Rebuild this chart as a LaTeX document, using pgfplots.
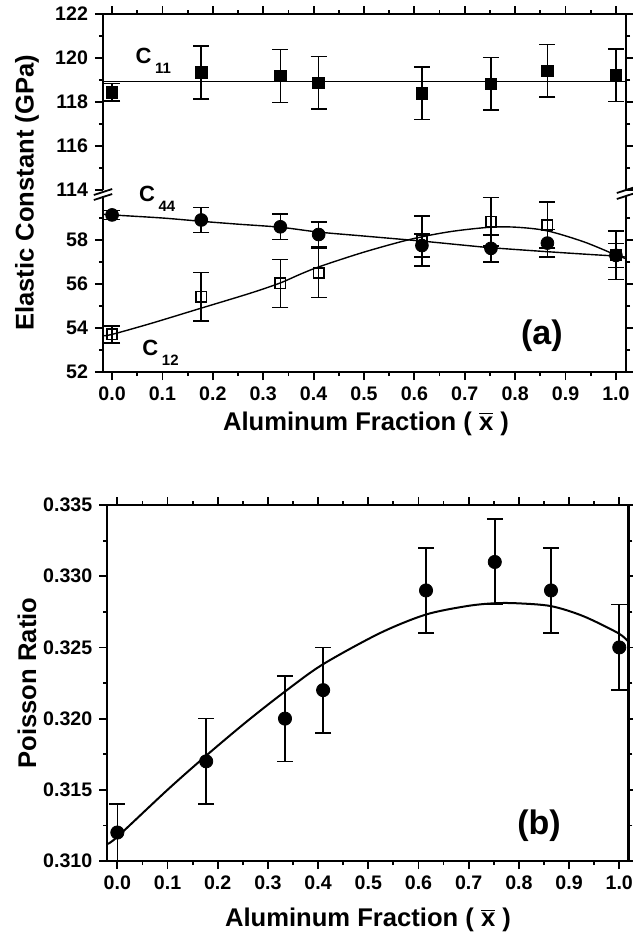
\documentclass[border=0pt]{standalone}
\usepackage{pgfplots}
\pgfplotsset{compat=1.18}
\usepackage{pgfplotstable}
\usepackage{fontspec}
\setmainfont{Liberation Sans}

% elastic constants, x = aluminum fraction, e = error
\pgfplotstableread{
x      y       e
0      118.45  0.40
0.177  119.35  1.20
0.334  119.18  1.20
0.41   118.87  1.20
0.615  118.40  1.20
0.752  118.83  1.20
0.864  119.42  1.20
1.0    119.22  1.20
}\cEleven
\pgfplotstableread{
x      y      e
0      59.14  0.20
0.177  58.91  0.57
0.334  58.60  0.58
0.41   58.25  0.57
0.615  57.75  0.52
0.752  57.62  0.62
0.864  57.86  0.62
1.0    57.30  0.55
}\cFortyFour
\pgfplotstableread{
x      y      e
0      53.71  0.38
0.177  55.43  1.10
0.334  56.03  1.09
0.41   56.50  1.12
0.615  57.96  1.13
0.752  58.83  1.10
0.864  58.68  1.05
1.0    57.30  1.10
}\cTwelve
\pgfplotstableread{
x      y      e
0      0.312  0.002
0.177  0.317  0.003
0.334  0.320  0.003
0.41   0.322  0.003
0.615  0.329  0.003
0.752  0.331  0.003
0.864  0.329  0.003
1.0    0.325  0.003
}\poisson

\newcommand{\Csub}[1]{C\hspace{1.8pt}\raisebox{-5pt}{\fontsize{7.5}{8}\selectfont\bfseries #1}}
\newcommand{\xlab}{Aluminum Fraction ( $\overline{\mbox{x}}$ )}

\pgfplotsset{
  base/.style={
    scale only axis, width=261.5pt, height=88pt,
    xmin=-0.018, xmax=1.02,
    xtick={0,0.1,0.2,0.3,0.4,0.5,0.6,0.7,0.8,0.9,1.0},
    xticklabels={0.0,0.1,0.2,0.3,0.4,0.5,0.6,0.7,0.8,0.9,1.0},
    minor x tick num=1,
    tick align=outside,
    major tick length=4pt, minor tick length=2pt,
    axis line style={line width=1.2pt, -},
    major tick style={line width=0.9pt, black},
    minor tick style={line width=0.9pt, black},
    ticklabel style={font=\fontsize{9.8}{10}\selectfont\bfseries},
    /pgf/number format/assume math mode=true,
    clip=false,
  },
  ebar/.style={error bars/.cd, y dir=both, y explicit,
    error bar style={line width=0.8pt, black},
    error mark options={rotate=90, mark size=4pt, line width=0.8pt, black}},
}

\begin{document}
\begin{tikzpicture}
\useasboundingbox (0,0) rectangle (316.5pt,-469.5pt);

% panel (a), upper part
\begin{axis}[base, at={(51.5pt,-7pt)}, anchor=north west,
  ymin=114, ymax=122, ytick={114,116,118,120,122}, minor y tick num=1,
  axis x line*=top, xticklabels={}]
\addplot[black, line width=0.7pt] coordinates {(-0.018,118.93) (1.02,118.93)};
\addplot[black, only marks, mark=square*, mark size=2.9pt, ebar]
  table[x=x, y=y, y error=e] {\cEleven};
\node[anchor=base west, inner sep=0pt, font=\fontsize{11}{12}\selectfont\bfseries] at (axis cs:0.046,119.76) {\Csub{11}};
\end{axis}

% panel (a), lower part
\begin{axis}[base, at={(51.5pt,-98pt)}, anchor=north west,
  ymin=52, ymax=60, ytick={52,54,56,58}, minor ytick={53,55,57,59},
  axis x line*=bottom]
\addplot[black, line width=0.7pt, smooth] coordinates {
  (-0.018,59.17) (0,59.14) (0.1,59.0) (0.177,58.85) (0.25,58.72) (0.334,58.58)
  (0.41,58.36) (0.5,58.18) (0.615,57.95) (0.7,57.76) (0.752,57.65) (0.863,57.47)
  (0.95,57.34) (1.0,57.27) (1.02,57.22)};
\addplot[black, line width=0.7pt, smooth] coordinates {
  (-0.018,53.65) (0,53.71) (0.076,54.2) (0.175,54.89) (0.274,55.58) (0.334,56.05)
  (0.374,56.45) (0.413,56.8) (0.5,57.45) (0.592,58.03) (0.671,58.38) (0.75,58.58)
  (0.803,58.58) (0.863,58.42) (0.936,57.92) (1.0,57.32) (1.02,57.15)};
\addplot[black, only marks, mark=*, mark size=3.2pt, ebar]
  table[x=x, y=y, y error=e] {\cFortyFour};
\addplot[black, only marks, mark=square, mark size=2.6pt,
  mark options={fill=white, line width=0.8pt}, ebar]
  table[x=x, y=y, y error=e] {\cTwelve};
\node[anchor=base west, inner sep=0pt, font=\fontsize{11}{12}\selectfont\bfseries] at (axis cs:0.053,59.74) {\Csub{44}};
\node[anchor=base west, inner sep=0pt, font=\fontsize{11}{12}\selectfont\bfseries] at (axis cs:0.0595,52.77) {\Csub{12}};
\node[font=\fontsize{17}{18}\selectfont\bfseries] at (axis cs:0.853,53.64) {(a)};
% axis break marks
\draw[line width=0.9pt] ([shift={(-4.6pt,0.5pt)}]rel axis cs:0,1) -- ([shift={(4.6pt,3.5pt)}]rel axis cs:0,1);
\draw[line width=0.9pt] ([shift={(-4.6pt,-2pt)}]rel axis cs:0,1) -- ([shift={(4.6pt,1pt)}]rel axis cs:0,1);
\draw[line width=0.9pt] ([shift={(-4.6pt,1.5pt)}]rel axis cs:1,1) -- ([shift={(4.6pt,4.5pt)}]rel axis cs:1,1);
\draw[line width=0.9pt] ([shift={(-4.6pt,-1.5pt)}]rel axis cs:1,1) -- ([shift={(4.6pt,1.5pt)}]rel axis cs:1,1);
\end{axis}

% panel (b)
\begin{axis}[base, at={(53.65pt,-252.5pt)}, anchor=north west,
  width=260.5pt, height=178pt, xmin=-0.02, xmax=1.018,
  ymin=0.310, ymax=0.335, ytick={0.310,0.315,0.320,0.325,0.330,0.335},
  yticklabels={0.310,0.315,0.320,0.325,0.330,0.335}, minor y tick num=1]
\addplot[black, line width=1pt, smooth] coordinates {
  (-0.02,0.3112) (0,0.3117) (0.1,0.3150) (0.177,0.3174) (0.258,0.3198)
  (0.334,0.3219) (0.409,0.3238) (0.523,0.3260) (0.614,0.3273) (0.696,0.3279)
  (0.751,0.3281) (0.796,0.3281) (0.864,0.3279) (0.928,0.3272) (0.998,0.3260)
  (1.018,0.3254)};
\addplot[black, only marks, mark=*, mark size=3.3pt, ebar]
  table[x=x, y=y, y error=e] {\poisson};
\node[font=\fontsize{17}{18}\selectfont\bfseries] at (axis cs:0.84,0.31246) {(b)};
\end{axis}

% axis titles
\node[rotate=90, font=\fontsize{12.8}{13}\selectfont\bfseries] at (13.5pt,-96.5pt) {Elastic Constant (GPa)};
\node[rotate=90, font=\fontsize{12.8}{13}\selectfont\bfseries] at (13.5pt,-341.5pt) {Poisson Ratio};
\node[anchor=base, font=\fontsize{12.8}{13}\selectfont\bfseries] at (183pt,-215pt) {\xlab};
\node[anchor=base, font=\fontsize{12.8}{13}\selectfont\bfseries] at (184pt,-463.3pt) {\xlab};
\end{tikzpicture}
\end{document}
